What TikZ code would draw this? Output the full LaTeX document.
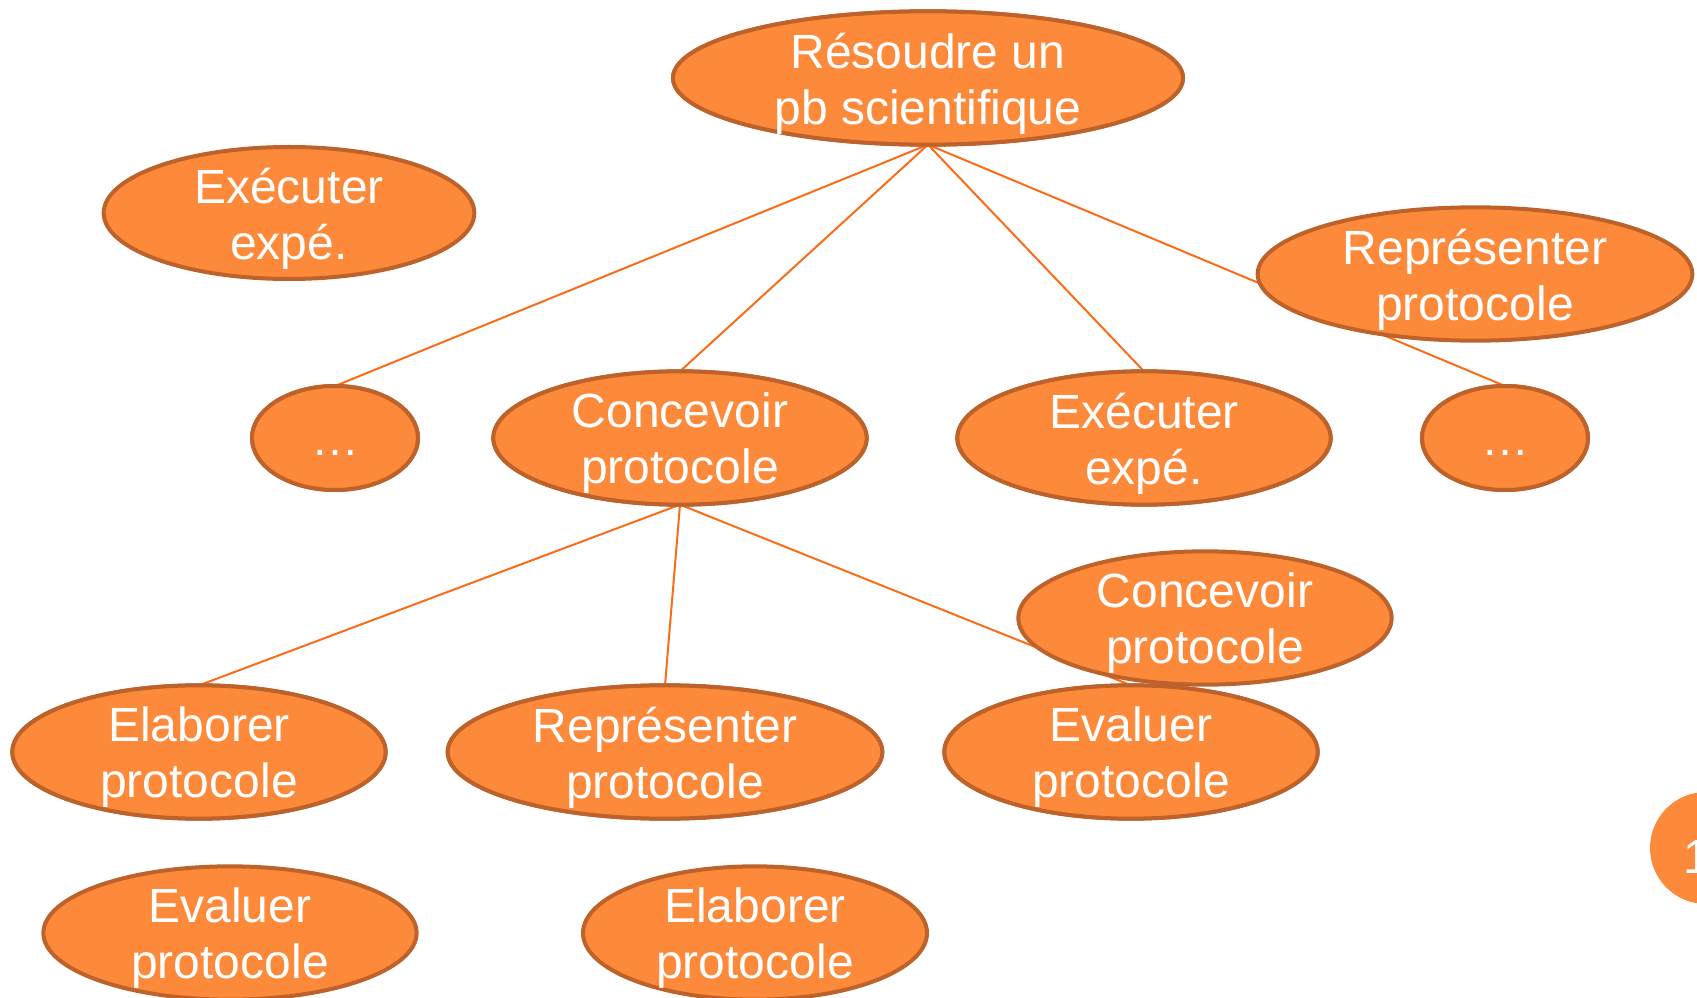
\documentclass[tikz,border=0pt]{standalone}
\usepackage{fontspec}
\setmainfont{Liberation Sans}
\usetikzlibrary{shapes.geometric}
\definecolor{orng}{RGB}{253,137,58}
\definecolor{bord}{RGB}{188,98,42}
\definecolor{lnk}{RGB}{250,108,24}
\tikzset{
  ell/.style={ellipse, draw=bord, fill=orng, line width=3pt, inner sep=0pt, outer sep=0pt},
  txt/.style={text=white, font=\fontsize{36}{42}\selectfont, align=center, inner sep=0pt, yshift=-4pt},
  link/.style={draw=lnk, line width=1.5pt}
}
\begin{document}
\begin{tikzpicture}[x=0.75pt,y=-0.75pt]
\useasboundingbox (0,0) rectangle (1697,998);
\clip (0,0) rectangle (1697,998);
% connected nodes
\node[ell, minimum width=382.5pt, minimum height=100pt] (root) at (928,78) {};
\node[ell, minimum width=124.5pt, minimum height=78pt] (dl) at (335,438) {};
\node[ell, minimum width=280pt, minimum height=100pt] (conc) at (680,438) {};
\node[ell, minimum width=280pt, minimum height=100pt] (exec) at (1144,438) {};
\node[ell, minimum width=124.5pt, minimum height=78pt] (dr) at (1505,438) {};
\node[ell, minimum width=280pt, minimum height=100pt] (elab) at (199,752) {};
\node[ell, minimum width=326pt, minimum height=100pt] (repr) at (665,752) {};
\node[ell, minimum width=280pt, minimum height=100pt] (eval) at (1131,752) {};
% connectors
\draw[link] (root.south) -- (dl.north);
\draw[link] (root.south) -- (conc.north);
\draw[link] (root.south) -- (exec.north);
\draw[link] (root.south) -- (dr.north);
\draw[link] (conc.south) -- (elab.north);
\draw[link] (conc.south) -- (repr.north);
\draw[link] (conc.south) -- (eval.north);
% redraw connected nodes above the connectors
\node[ell, minimum width=382.5pt, minimum height=100pt] at (root) {};
\node[ell, minimum width=124.5pt, minimum height=78pt] at (dl) {};
\node[ell, minimum width=280pt, minimum height=100pt] at (conc) {};
\node[ell, minimum width=280pt, minimum height=100pt] at (exec) {};
\node[ell, minimum width=124.5pt, minimum height=78pt] at (dr) {};
\node[ell, minimum width=280pt, minimum height=100pt] at (elab) {};
\node[ell, minimum width=326pt, minimum height=100pt] at (repr) {};
\node[ell, minimum width=280pt, minimum height=100pt] at (eval) {};
% loose nodes
\node[ell, minimum width=278pt, minimum height=99pt] (exec2) at (289,213) {};
\node[ell, minimum width=326pt, minimum height=100pt] (repr2) at (1475,274) {};
\node[ell, minimum width=280pt, minimum height=100pt] (conc2) at (1205,618) {};
\node[ell, minimum width=280pt, minimum height=100pt] (eval2) at (230,933) {};
\node[ell, minimum width=258pt, minimum height=100pt] (elab2) at (755,933) {};
\node[circle, fill=orng, minimum size=84pt, inner sep=0pt] (num) at (1706,848) {};
% texts
\node[txt] at (root) {Résoudre un\\pb scientifique};
\node[txt, yshift=-7pt] at (dl) {…};
\node[txt] at (conc) {Concevoir\\protocole};
\node[txt] at (exec) {Exécuter\\expé.};
\node[txt, yshift=-7pt] at (dr) {…};
\node[txt] at (elab) {Elaborer\\protocole};
\node[txt] at (repr) {Représenter\\protocole};
\node[txt] at (eval) {Evaluer\\protocole};
\node[txt] at (exec2) {Exécuter\\expé.};
\node[txt] at (repr2) {Représenter\\protocole};
\node[txt] at (conc2) {Concevoir\\protocole};
\node[txt] at (eval2) {Evaluer\\protocole};
\node[txt] at (elab2) {Elaborer\\protocole};
\node[txt, anchor=west] at (1683,852) {1};
\end{tikzpicture}
\end{document}
